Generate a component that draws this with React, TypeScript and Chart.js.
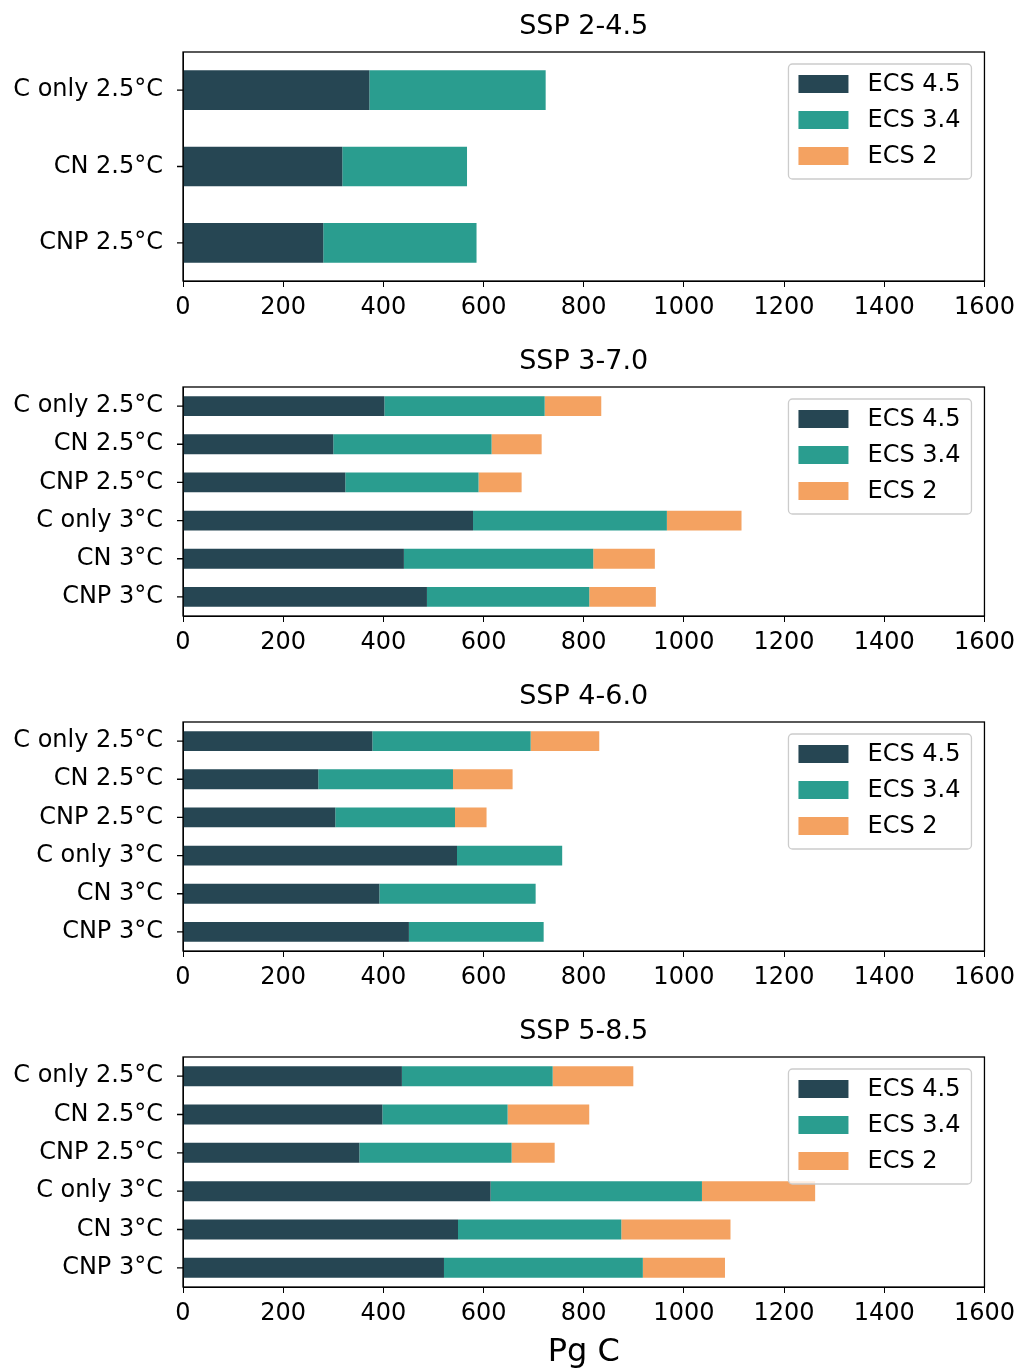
import { useEffect, useRef } from "react";
import { Chart, registerables } from "chart.js";

Chart.register(...registerables);

const labels2 = ["C only 2.5°C", "CN 2.5°C", "CNP 2.5°C"];
const labels6 = ["C only 2.5°C", "CN 2.5°C", "CNP 2.5°C", "C only 3°C", "CN 3°C", "CNP 3°C"];

const series = ["ECS 4.5", "ECS 3.4", "ECS 2"];
const colors = ["#264653", "#2a9d8f", "#f4a261"];

const ssp245_45 = [372, 318, 280];
const ssp245_34 = [352, 249, 306];
const ssp245_2 = [0, 0, 0];

const ssp370_45 = [402, 300, 324, 579, 441, 487];
const ssp370_34 = [320, 316, 266, 387, 378, 324];
const ssp370_2 = [113, 100, 86, 149, 123, 133];

const ssp460_45 = [378, 270, 304, 547, 392, 451];
const ssp460_34 = [316, 269, 239, 210, 312, 269];
const ssp460_2 = [137, 119, 63, 0, 0, 0];

const ssp585_45 = [437, 398, 352, 614, 549, 521];
const ssp585_34 = [301, 250, 304, 422, 326, 397];
const ssp585_2 = [161, 163, 86, 226, 218, 164];

const panels = [
  { title: "SSP 2-4.5", labels: labels2, data: [ssp245_45, ssp245_34, ssp245_2] },
  { title: "SSP 3-7.0", labels: labels6, data: [ssp370_45, ssp370_34, ssp370_2] },
  { title: "SSP 4-6.0", labels: labels6, data: [ssp460_45, ssp460_34, ssp460_2] },
  { title: "SSP 5-8.5", labels: labels6, data: [ssp585_45, ssp585_34, ssp585_2] },
];

const FONT = "'DejaVu Sans', sans-serif";

function Panel({ idx }: { idx: number }) {
  const canvasRef = useRef<HTMLCanvasElement>(null);
  const p = panels[idx];
  const last = idx === panels.length - 1;
  const height = last ? 366 : 335;

  useEffect(() => {
    if (!canvasRef.current) return;
    const deco = {
      id: "deco",
      afterDraw(chart: any) {
        const { ctx, chartArea: a } = chart;
        ctx.save();
        ctx.strokeStyle = "#000";
        ctx.lineWidth = 1.3;
        ctx.strokeRect(a.left, a.top, a.right - a.left, a.bottom - a.top);
        // y tick marks at category centres
        const ys = chart.scales.y;
        ctx.beginPath();
        p.labels.forEach((_: string, i: number) => {
          const y = ys.getPixelForValue(i);
          ctx.moveTo(a.left - 6, y);
          ctx.lineTo(a.left, y);
        });
        ctx.stroke();
        ctx.fillStyle = "#000";
        ctx.textAlign = "center";
        ctx.textBaseline = "middle";
        ctx.font = `27px ${FONT}`;
        ctx.fillText(p.title, (a.left + a.right) / 2, a.top - 25);
        if (last) {
          ctx.font = `32px ${FONT}`;
          ctx.fillText("Pg C", (a.left + a.right) / 2, a.bottom + 66);
        }
        // legend
        const bx = a.right - 196, by = a.top + 12, bw = 183, bh = 115;
        ctx.strokeStyle = "#cccccc";
        ctx.fillStyle = "rgba(255,255,255,0.8)";
        ctx.beginPath();
        ctx.roundRect(bx, by, bw, bh, 4);
        ctx.fill();
        ctx.stroke();
        ctx.font = `24px ${FONT}`;
        ctx.textAlign = "left";
        series.forEach((s, i) => {
          const y = by + 20 + i * 36;
          ctx.fillStyle = colors[i];
          ctx.fillRect(bx + 10, y - 9, 50, 18);
          ctx.fillStyle = "#000";
          ctx.fillText(s, bx + 79, y + 1);
        });
        ctx.restore();
      },
    };
    const chart = new Chart(canvasRef.current, {
      type: "bar",
      data: {
        labels: p.labels,
        datasets: series.map((s, i) => ({
          label: s,
          data: p.data[i],
          backgroundColor: colors[i],
          barPercentage: 0.52,
          categoryPercentage: 1,
        })),
      },
      options: {
        indexAxis: "y",
        responsive: false,
        animation: false,
        layout: { padding: { top: 52, right: 31, left: 0, bottom: 0 } },
        plugins: { legend: { display: false }, title: { display: false }, tooltip: { enabled: false } },
        scales: {
          x: {
            stacked: true,
            min: 0,
            max: 1600,
            ticks: { stepSize: 200, color: "#000", font: { family: FONT, size: 24 }, maxRotation: 0, padding: 6, callback: (v: any) => String(v) },
            grid: { drawOnChartArea: false, drawTicks: true, tickLength: 6, color: "#000" },
            border: { color: "#000" },
            afterFit: (s: any) => { s.height = last ? 84 : 54; },
          },
          y: {
            stacked: true,
            ticks: { color: "#000", font: { family: FONT, size: 24 }, padding: 12 },
            grid: { display: false },
            border: { color: "#000" },
            afterFit: (s: any) => { s.width = 183; },
          },
        },
      },
      plugins: [deco],
    } as any);
    return () => chart.destroy();
  }, []);

  return <canvas ref={canvasRef} width={1021} height={height} style={{ display: "block" }} />;
}

export default function App() {
  return (
    <div style={{ position: "absolute", left: 0, top: 0, width: 1021, height: 1371, background: "#fff" }}>
      {panels.map((_, i) => <Panel key={i} idx={i} />)}
    </div>
  );
}
